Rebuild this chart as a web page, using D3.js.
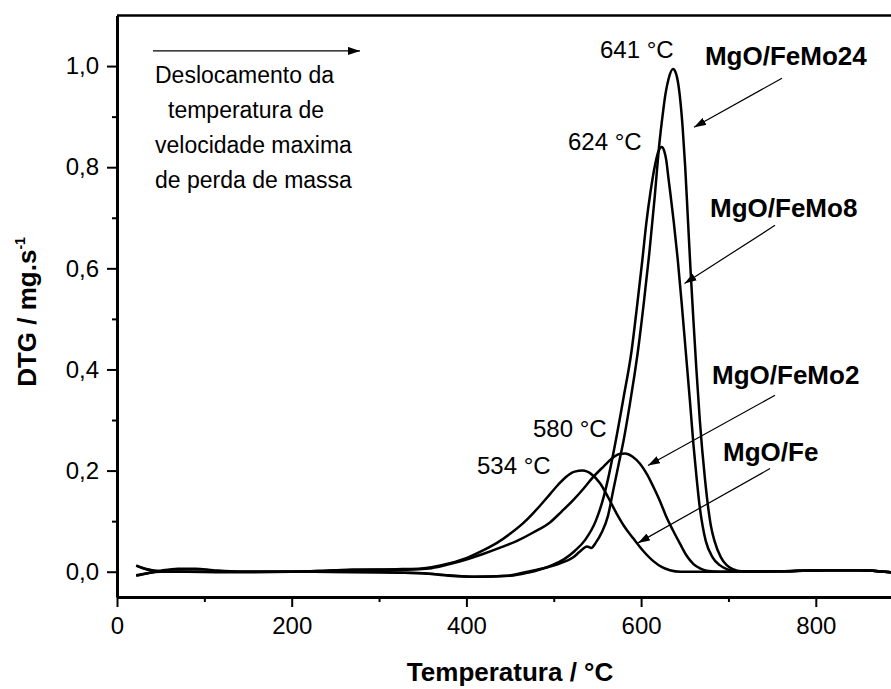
<!DOCTYPE html>
<html>
<head>
<meta charset="utf-8">
<script src="https://cdn.jsdelivr.net/npm/d3@7"></script>
<style>
  body { margin: 0; background: #fff; }
  svg { display: block; }
  text { font-family: "Liberation Sans", Arial, sans-serif; }
</style>
</head>
<body>
<div id="chart"></div>
<script>
// DTG curves, [temperatura °C, DTG mg/s]
var mgoFe = [[22,-0.007],[35,-0.003],[50,0.002],[70,0.006],[90,0.006],[110,0.003],[140,0.0],[200,0.0],[240,0.002],[270,0.004],[320,0.005],[345,0.006],[360,0.009],[381,0.017],[400,0.027],[419,0.042],[435,0.057],[450,0.075],[465,0.096],[476,0.115],[486,0.134],[496,0.154],[505,0.172],[515,0.189],[524,0.198],[533,0.200],[543,0.193],[553,0.175],[562,0.148],[572,0.115],[581,0.089],[591,0.066],[602,0.042],[614,0.021],[624,0.009],[633,0.003],[645,0.0],[700,0.0],[760,0.001],[810,0.003],[850,0.003],[890,-0.002]];

var feMo2 = [[22,0.012],[35,0.005],[50,0.001],[80,0.0],[140,-0.001],[200,0.0],[240,0.002],[270,0.004],[320,0.004],[345,0.005],[360,0.007],[381,0.015],[400,0.024],[419,0.035],[438,0.047],[458,0.061],[477,0.078],[496,0.098],[509,0.119],[522,0.141],[534,0.164],[545,0.187],[557,0.208],[568,0.226],[575,0.233],[581.6,0.234],[590,0.228],[599,0.213],[607,0.192],[614,0.168],[622,0.138],[629,0.108],[637,0.080],[645,0.054],[652,0.032],[660,0.015],[668,0.006],[675,0.002],[690,0.0],[760,0.001],[810,0.003],[850,0.003],[890,-0.002]];

var feMo8 = [[22,0.012],[35,0.004],[50,0.001],[80,0.0],[200,0.0],[300,-0.001],[350,-0.003],[380,-0.007],[410,-0.010],[450,-0.008],[470,-0.002],[485,0.005],[498,0.013],[512,0.025],[524,0.041],[536,0.063],[548,0.10],[557,0.147],[563,0.19],[570,0.25],[580,0.345],[589.2,0.438],[595,0.52],[601.4,0.616],[606,0.69],[610.5,0.748],[616,0.805],[620,0.832],[623.6,0.840],[626.5,0.832],[628.8,0.814],[631.2,0.78],[633.5,0.748],[637.5,0.69],[641.8,0.62],[646.5,0.53],[651,0.438],[655.8,0.34],[660,0.25],[663.3,0.19],[667.2,0.127],[670.5,0.09],[674,0.061],[682,0.028],[690,0.013],[698,0.005],[710,0.001],[760,0.001],[810,0.003],[850,0.003],[890,-0.002]];

var feMo24 = [[22,-0.008],[35,-0.003],[50,0.0],[80,0.0],[200,0.0],[300,-0.001],[350,-0.003],[380,-0.008],[410,-0.010],[446,-0.008],[470,0.0],[492,0.0085],[508,0.017],[522,0.028],[530,0.040],[538,0.050],[543,0.047],[548,0.057],[555,0.078],[562,0.11],[568,0.16],[574,0.21],[580,0.26],[587,0.33],[592.5,0.39],[596.5,0.438],[603,0.53],[609.4,0.63],[615.5,0.74],[621,0.848],[624.8,0.905],[628,0.946],[631.5,0.975],[636.5,0.994],[640,0.985],[644,0.946],[647.5,0.88],[650.5,0.80],[653.5,0.70],[656.5,0.60],[659.8,0.50],[663.3,0.40],[667.2,0.30],[670,0.24],[673.3,0.18],[676.8,0.127],[680,0.09],[684,0.061],[691.5,0.028],[698,0.013],[705,0.005],[715,0.001],[760,0.001],[810,0.003],[850,0.003],[890,-0.002]];

var xTicks = [0, 200, 400, 600, 800];
var xMinor = [100, 300, 500, 700];
var yTicks = [0, 0.2, 0.4, 0.6, 0.8, 1.0];
var yMinor = [0.1, 0.3, 0.5, 0.7, 0.9];

// series labels: text, anchor [t, v], arrow start, arrow tip
var seriesLabels = ["MgO/FeMo24", "MgO/FeMo8", "MgO/FeMo2", "MgO/Fe"];
var seriesLabelPos = [[673.1, 1.002], [678.9, 0.701], [681.2, 0.372], [693.8, 0.218]];
var arrowFrom = [[761.3, 0.976], [753.3, 0.685], [753.3, 0.349], [747.6, 0.204]];
var arrowTo = [[660.6, 0.879], [649.7, 0.570], [607.9, 0.210], [596.5, 0.057]];

// peak temperatures
var peakLabels = ["641 °C", "624 °C", "580 °C", "534 °C"];
var peakLabelPos = [[552.9, 1.016], [516.3, 0.834], [476.2, 0.267], [412.1, 0.194]];

var noteLines = ["Deslocamento da", "temperatura de", "velocidade maxima", "de perda de massa"];
var notePos = [[43.5, 0.966], [58.4, 0.897], [43.5, 0.828], [43.5, 0.758]];
var noteArrow = [[41.2, 1.030], [278.2, 1.030]];

var width = 891, height = 689;
var margin = { top: 15.5, left: 117, bottom: 92 };

var x = d3.scaleLinear().domain([0, 900]).range([margin.left, margin.left + 0.8735 * 900]);
var y = d3.scaleLinear().domain([-0.05, 1.1]).range([height - margin.bottom, margin.top]);

var svg = d3.select("#chart").append("svg")
    .attr("width", width)
    .attr("height", height);

svg.append("defs").append("marker")
    .attr("id", "head")
    .attr("viewBox", "0 0 12 8")
    .attr("refX", 12).attr("refY", 4)
    .attr("markerWidth", 12).attr("markerHeight", 8)
    .attr("markerUnits", "userSpaceOnUse")
    .attr("orient", "auto")
    .append("path")
    .attr("d", "M0,0 L12,4 L0,8 Z")
    .attr("fill", "#000");

var fmt = function(d) { return d3.format(".1f")(d).replace(".", ","); };

// axes
svg.append("g")
    .attr("transform", "translate(" + margin.left + ",0)")
    .call(d3.axisLeft(y).tickValues(yTicks).tickFormat(fmt).tickSize(10).tickSizeOuter(0).tickPadding(8));
svg.append("g")
    .attr("transform", "translate(" + margin.left + ",0)")
    .call(d3.axisLeft(y).tickValues(yMinor).tickFormat("").tickSize(5).tickSizeOuter(0))
    .select(".domain").remove();

svg.append("g")
    .attr("transform", "translate(0," + y(-0.05) + ")")
    .call(d3.axisBottom(x).tickValues(xTicks).tickSize(10).tickSizeOuter(0).tickPadding(10));
svg.append("g")
    .attr("transform", "translate(0," + y(-0.05) + ")")
    .call(d3.axisBottom(x).tickValues(xMinor).tickFormat("").tickSize(5).tickSizeOuter(0))
    .select(".domain").remove();

svg.selectAll(".domain").attr("stroke-width", 3);
svg.selectAll(".tick line").attr("stroke-width", 2);
svg.selectAll(".tick text")
    .attr("font-size", 24)
    .attr("font-family", "Liberation Sans, Arial, sans-serif")
    .attr("fill", "#000");

// top frame line
svg.append("line")
    .attr("x1", x(0)).attr("x2", width)
    .attr("y1", y(1.1)).attr("y2", y(1.1))
    .attr("stroke", "#000").attr("stroke-width", 2.5);

// curves
var line = d3.line()
    .x(function(d) { return x(d[0]); })
    .y(function(d) { return y(d[1]); })
    .curve(d3.curveMonotoneX);

[mgoFe, feMo2, feMo8, feMo24].forEach(function(s) {
    svg.append("path")
        .datum(s)
        .attr("d", line)
        .attr("fill", "none")
        .attr("stroke", "#000")
        .attr("stroke-width", 2.5)
        .attr("stroke-linejoin", "round");
});

// series labels + arrows
seriesLabels.forEach(function(name, i) {
    svg.append("text")
        .attr("x", x(seriesLabelPos[i][0]))
        .attr("y", y(seriesLabelPos[i][1]))
        .attr("font-size", 26)
        .attr("font-weight", "bold")
        .text(name);
    svg.append("line")
        .attr("x1", x(arrowFrom[i][0])).attr("y1", y(arrowFrom[i][1]))
        .attr("x2", x(arrowTo[i][0])).attr("y2", y(arrowTo[i][1]))
        .attr("stroke", "#000").attr("stroke-width", 1.2)
        .attr("marker-end", "url(#head)");
});

peakLabels.forEach(function(t, i) {
    svg.append("text")
        .attr("x", x(peakLabelPos[i][0]))
        .attr("y", y(peakLabelPos[i][1]))
        .attr("font-size", 24)
        .text(t);
});

// note + arrow at top left
noteLines.forEach(function(t, i) {
    svg.append("text")
        .attr("x", x(notePos[i][0]))
        .attr("y", y(notePos[i][1]))
        .attr("font-size", 23)
        .text(t);
});
svg.append("line")
    .attr("x1", x(noteArrow[0][0])).attr("y1", y(noteArrow[0][1]))
    .attr("x2", x(noteArrow[1][0])).attr("y2", y(noteArrow[1][1]))
    .attr("stroke", "#000").attr("stroke-width", 1.2)
    .attr("marker-end", "url(#head)");

// axis titles
svg.append("text")
    .attr("x", x(450))
    .attr("y", 681)
    .attr("text-anchor", "middle")
    .attr("font-size", 26)
    .attr("font-weight", "bold")
    .text("Temperatura / °C");

var yTitle = svg.append("text")
    .attr("transform", "translate(36," + 312 + ") rotate(-90)")
    .attr("text-anchor", "middle")
    .attr("font-size", 26)
    .attr("font-weight", "bold");
yTitle.append("tspan").text("DTG / mg.s");
yTitle.append("tspan").attr("dy", -11).attr("font-size", 14).text("-1");
</script>
</body>
</html>
